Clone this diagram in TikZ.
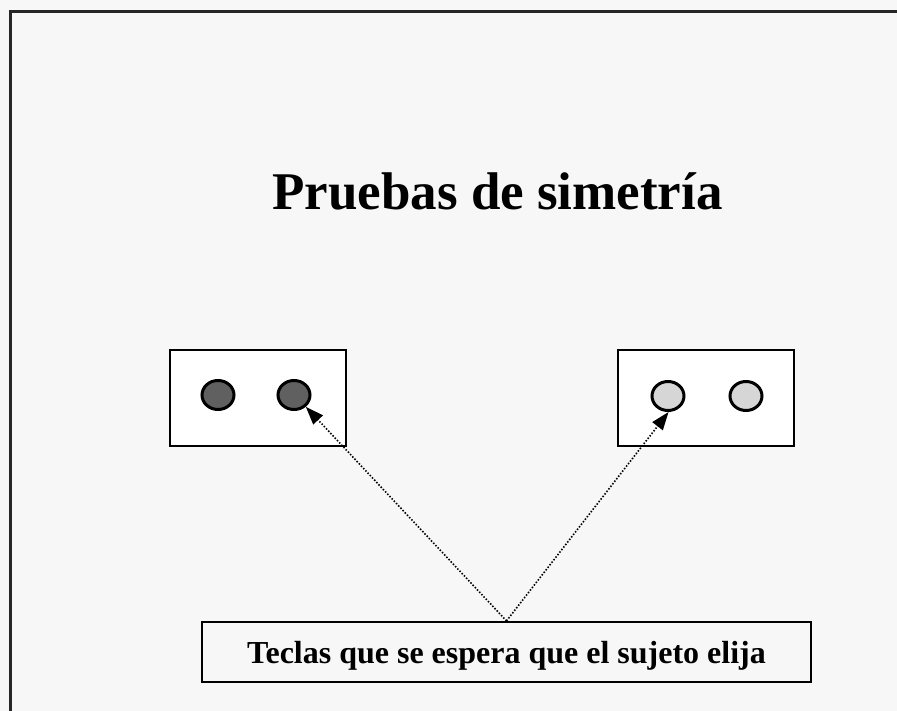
\documentclass[tikz,border=0pt]{standalone}
\usepackage{fontspec}
\setmainfont{Liberation Serif}
\usetikzlibrary{arrows.meta,shapes.geometric}
\definecolor{bgc}{HTML}{F7F7F7}
\definecolor{darkdot}{HTML}{606060}
\definecolor{lightdot}{HTML}{D6D6D6}
\tikzset{
  keybox/.style={draw=black, fill=white, line width=2.2pt, minimum width=176pt, minimum height=96pt, inner sep=0pt},
  darkkey/.style={ellipse, draw=black, fill=darkdot, line width=3pt, minimum width=32pt, minimum height=29pt, inner sep=0pt},
  lightkey/.style={ellipse, draw=black, fill=lightdot, line width=3pt, minimum width=32pt, minimum height=29pt, inner sep=0pt},
  pointer/.style={line width=1.6pt, dash pattern=on 1.5pt off 1.7pt, -{Triangle[length=18pt,width=13pt]}},
  labelbox/.style={draw=black, fill=bgc, line width=2.2pt, minimum width=609pt, minimum height=60pt, inner sep=0pt, text depth=0pt, font=\bfseries\fontsize{32}{38}\selectfont},
  titletext/.style={font=\bfseries\fontsize{53}{60}\selectfont, inner sep=0pt}
}
\begin{document}
\begin{tikzpicture}[x=1pt,y=-1pt]
\useasboundingbox (0,0) rectangle (897,711);
\clip (0,0) rectangle (897,711);
\fill[bgc] (0,0) rectangle (897,711);
\draw[line width=3pt, draw=black!85] (10,740) -- (10,12) -- (920,12);
\node[titletext] (title) at (497.5,191) {Pruebas de simetría};
\node[keybox] (lbox) at (258,398) {};
\node[keybox] (rbox) at (706,398) {};
\node[darkkey] (c1) at (218,395) {};
\node[darkkey] (c2) at (294,395) {};
\node[lightkey] (c3) at (668,396) {};
\node[lightkey] (c4) at (746,396) {};
\node[labelbox] (lab) at (506.5,652) {Teclas que se espera que el sujeto elija};
\draw[pointer] (lab.north) -- (c2.-45);
\draw[pointer] (lab.north) -- (c3.-88);
\end{tikzpicture}
\end{document}
